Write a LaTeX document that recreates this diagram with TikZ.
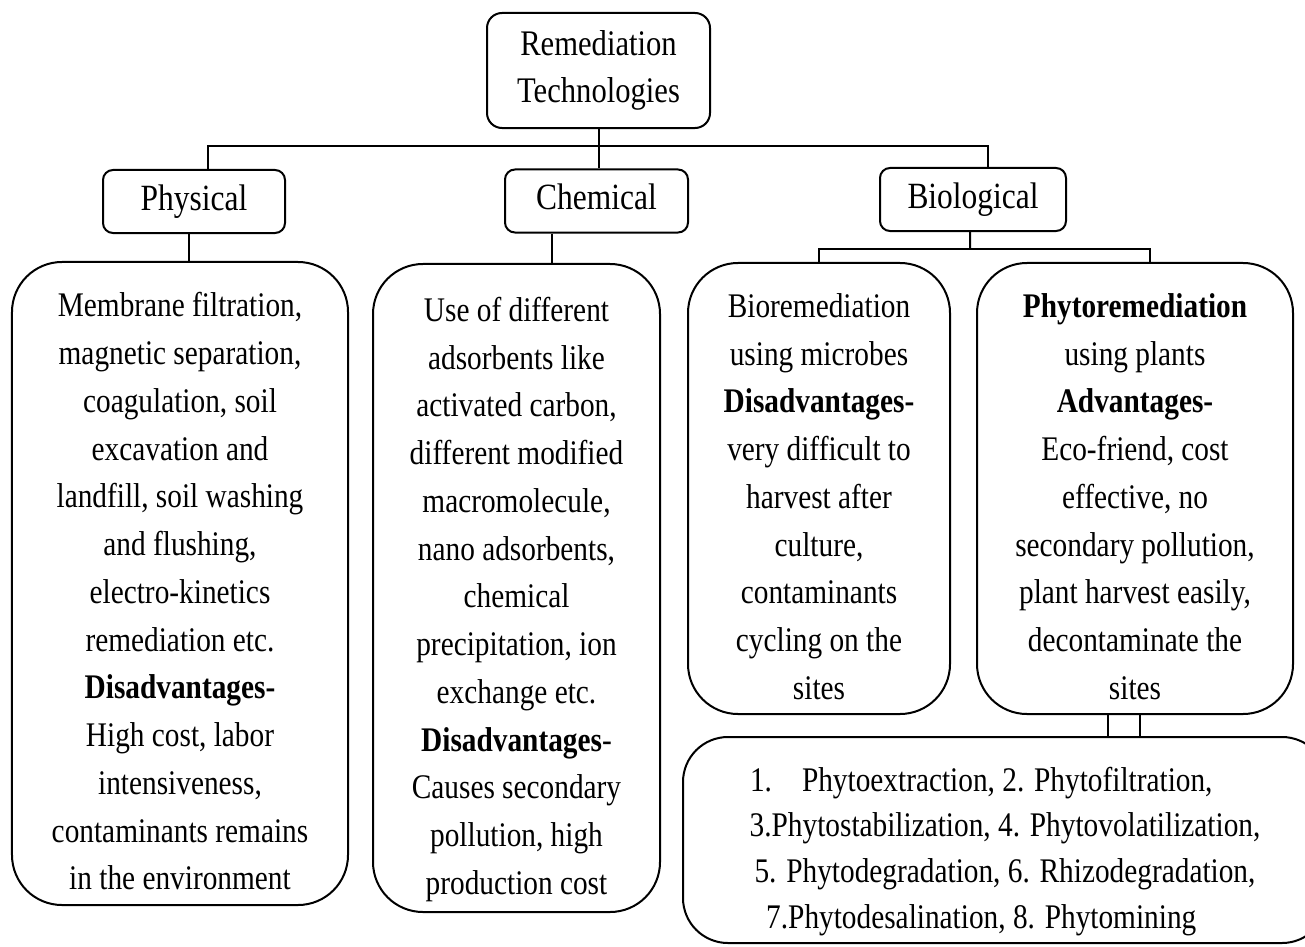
\documentclass[tikz,border=0pt]{standalone}
\usepackage{fontspec}
\setmainfont{Liberation Serif}[FakeStretch=0.85]
\newcommand{\tstr}{\rule{0pt}{19pt}}
\newcommand{\bstr}{\rule[-3.2pt]{0pt}{0pt}}
\begin{document}
\begin{tikzpicture}[x=0.4pt,y=-0.4pt,line width=0.8pt]

		\tikzstyle{every node}=[font=\fontsize{13.8}{19.1}\selectfont]
		\tikzstyle{headbox}=[rectangle,draw=black,rounded corners=4pt,
			minimum height=25.2pt,text height=9.6pt,text depth=2.6pt,
			font=\fontsize{14.8}{19.1}\selectfont]
		\tikzstyle{textbox}=[rectangle,draw=black,rounded corners=20pt,
			inner sep=0pt,align=center]

		\useasboundingbox (0,0) rectangle (1305,946);

		\node[rectangle,draw=black,rounded corners=6pt,minimum width=89.2pt,minimum height=46pt,align=center,font=\fontsize{14.4}{19.1}\selectfont]	(top) at (598.5,70.5)	{Remediation\\Technologies};
		\node[headbox,minimum width=72.8pt]	(phys)	at (194,201.5)	{Physical};
		\node[headbox,minimum width=73.2pt]	(chem)	at (596.5,201)	{Chemical};
		\node[headbox,minimum width=74.4pt]	(bio)	at (973,199.5)	{Biological};

		\node[textbox,minimum width=134.4pt,minimum height=257.2pt]	(physd)	at (180,583.5)	{\tstr Membrane filtration,\\magnetic separation,\\coagulation, soil\\excavation and\\landfill, soil washing\\and flushing,\\electro-kinetics\\remediation etc.\\\textbf{Disadvantages-}\\High cost, labor\\intensiveness,\\contaminants remains\\in the environment\bstr};
		\node[textbox,minimum width=114.8pt,minimum height=259.2pt]	(chemd)	at (516.5,588)	{\tstr Use of different\\adsorbents like\\activated carbon,\\different modified\\macromolecule,\\nano adsorbents,\\chemical\\precipitation, ion\\exchange etc.\\\textbf{Disadvantages}-\\Causes secondary\\pollution, high\\production cost\bstr};
		\node[textbox,minimum width=104.8pt,minimum height=180.4pt]	(biod)	at (819,488.5)	{\tstr Bioremediation\\using microbes\\\textbf{Disadvantages-}\\very difficult to\\harvest after\\culture,\\contaminants\\cycling on the\\sites\bstr};
		\node[textbox,minimum width=126.4pt,minimum height=180.4pt]	(phytod)	at (1135,488.5)	{\tstr\textbf{Phytoremediation}\\using plants\\\textbf{Advantages-}\\Eco-friend, cost\\effective, no\\secondary pollution,\\plant harvest easily,\\decontaminate the\\sites\bstr};
		\node[textbox,rounded corners=18pt,minimum width=257.6pt,minimum height=82.4pt,font=\fontsize{13.8}{18.3}\selectfont]	(list)	at (1005,840)	{\tstr 1.\hspace{12pt}Phytoextraction, 2. Phytofiltration,\hspace*{19pt}\\3.Phytostabilization, 4. Phytovolatilization,\hspace*{19pt}\\5. Phytodegradation, 6. Rhizodegradation,\hspace*{19pt}\\7.Phytodesalination, 8. Phytomining\hspace*{19pt}\bstr};

		% tree lines
		\coordinate (bus) at (599,146);
		\coordinate (biofork) at (970,249);
		\draw (top.south) -- (top.south |- chem.north);
		\draw ([xshift=5.6pt]phys.north) |- (bus) -| ([xshift=6pt]bio.north);
		\draw ([xshift=-2pt]phys.south) -- ([xshift=-2pt]phys.south |- physd.north);
		\draw ([xshift=-17.8pt]chem.south) -- ([xshift=-17.8pt]chem.south |- chemd.north);
		\draw ([xshift=-1.2pt]bio.south) -- (biofork);
		\draw (biod.north) |- (biofork) -| ([xshift=6pt]phytod.north);
		\draw ([xshift=-10.8pt]phytod.south) -- ([xshift=-10.8pt]phytod.south |- list.north);
		\draw ([xshift=2pt]phytod.south) -- ([xshift=2pt]phytod.south |- list.north);

	\end{tikzpicture}
\end{document}
